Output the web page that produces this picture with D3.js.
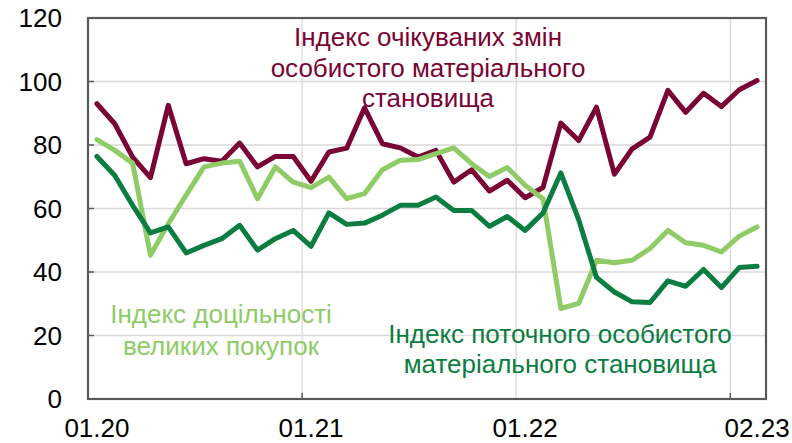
<!DOCTYPE html>
<html>
<head>
<meta charset="utf-8">
<script src="https://cdn.jsdelivr.net/npm/d3@7/dist/d3.min.js"></script>
<style>
  html, body { margin: 0; padding: 0; background: #ffffff; }
  svg { display: block; }
  text { font-family: "Liberation Sans", Arial, sans-serif; }
</style>
</head>
<body>
<svg id="chart" width="792" height="443"></svg>
<script>
// Months Jan 2020 .. Feb 2023
const months = [
  "01.20","02.20","03.20","04.20","05.20","06.20","07.20","08.20","09.20","10.20","11.20","12.20",
  "01.21","02.21","03.21","04.21","05.21","06.21","07.21","08.21","09.21","10.21","11.21","12.21",
  "01.22","02.22","03.22","04.22","05.22","06.22","07.22","08.22","09.22","10.22","11.22","12.22",
  "01.23","02.23"
];
const tickLabels = ["01.20","01.21","01.22","02.23"];
const yTicks = [0, 20, 40, 60, 80, 100, 120];

// Index of expected changes in personal financial situation
const expectedChange = [
  93.0, 86.7, 76.2, 69.7, 92.5, 74.1, 75.7, 74.9, 80.6, 73.1, 76.4, 76.4,
  68.6, 77.8, 79.0, 91.7, 80.4, 79.1, 76.2, 78.3, 68.3, 72.2, 65.5, 68.9,
  63.4, 66.6, 86.9, 81.4, 91.9, 70.8, 78.8, 82.5, 97.2, 90.3, 96.3, 92.1,
  97.4, 100.3
];
// Index of propriety of large purchases
const largePurchases = [
  81.7, 78.3, 74.3, 45.3, 55.2, 64.2, 73.1, 74.3, 74.9, 63.1, 73.1, 68.3,
  66.6, 69.9, 63.1, 64.7, 72.2, 75.2, 75.4, 77.3, 79.1, 74.1, 70.1, 72.9,
  67.3, 63.1, 28.5, 30.1, 43.7, 42.9, 43.7, 47.4, 53.1, 49.2, 48.4, 46.3,
  51.3, 54.2
];
// Index of current personal financial situation
const currentSituation = [
  76.4, 70.4, 61.0, 52.3, 54.2, 46.0, 48.4, 50.5, 54.7, 46.9, 50.5, 53.1,
  48.1, 58.6, 55.0, 55.4, 57.9, 61.0, 61.0, 63.6, 59.4, 59.4, 54.4, 57.5,
  53.1, 58.6, 71.2, 56.5, 38.3, 33.7, 30.6, 30.4, 37.2, 35.5, 40.8, 35.1,
  41.4, 41.8
];

const series = [
  { name: "expected", values: expectedChange, color: "#7a0534",
    label: ["Індекс очікуваних змін", "особистого матеріального", "становища"], lx: 428, ly: 46, lh: 30.5 },
  { name: "purchases", values: largePurchases, color: "#8fcb66",
    label: ["Індекс доцільності", "великих покупок"], lx: 221, ly: 323, lh: 31.5 },
  { name: "current", values: currentSituation, color: "#0b7d41",
    label: ["Індекс поточного особистого", "матеріального становища"], lx: 560, ly: 343, lh: 30 }
];

const plotL = 88, plotR = 766, plotT = 18, plotB = 399;
const svg = d3.select("#chart");

const x = d3.scaleBand().domain(d3.range(months.length)).range([plotL, plotR]).paddingInner(0).paddingOuter(0);
const y = d3.scaleLinear().domain([0, 120]).range([plotB, plotT]);
const cx = i => x(i) + x.bandwidth() / 2;

// horizontal gridlines
svg.append("g").selectAll("line").data(yTicks.filter(v => v > 0 && v < 120)).join("line")
  .attr("x1", plotL).attr("x2", plotR)
  .attr("y1", d => y(d)).attr("y2", d => y(d))
  .attr("stroke", "#d9d9d9").attr("stroke-width", 1.3);

// vertical gridlines at year boundaries
const vIdx = [12, 24, 36];
svg.append("g").selectAll("line").data(vIdx).join("line")
  .attr("x1", d => x(d)).attr("x2", d => x(d))
  .attr("y1", plotT).attr("y2", plotB)
  .attr("stroke", "#d9d9d9").attr("stroke-width", 1.3);

// y axis ticks (inside)
svg.append("g").selectAll("line").data(yTicks.filter(v => v > 0 && v < 120)).join("line")
  .attr("x1", plotL).attr("x2", plotL + 6)
  .attr("y1", d => y(d)).attr("y2", d => y(d))
  .attr("stroke", "#595959").attr("stroke-width", 1.5);
// x axis ticks (inside)
svg.append("g").selectAll("line").data([12, 36]).join("line")
  .attr("x1", d => x(d)).attr("x2", d => x(d))
  .attr("y1", plotB).attr("y2", plotB - 6)
  .attr("stroke", "#595959").attr("stroke-width", 1.5);

// lines
const line = d3.line().x((d, i) => cx(i)).y(d => y(d)).curve(d3.curveLinear);
svg.append("g").selectAll("path").data(series).join("path")
  .attr("d", d => line(d.values))
  .attr("fill", "none")
  .attr("stroke", d => d.color)
  .attr("stroke-width", 5)
  .attr("stroke-linejoin", "round")
  .attr("stroke-linecap", "round");

// frame
svg.append("rect")
  .attr("x", plotL).attr("y", plotT).attr("width", plotR - plotL).attr("height", plotB - plotT)
  .attr("fill", "none").attr("stroke", "#595959").attr("stroke-width", 2.2);

// y labels
svg.append("g").selectAll("text").data(yTicks).join("text")
  .attr("x", 62).attr("y", d => y(d)).attr("dy", "0.36em")
  .attr("text-anchor", "end").attr("font-size", 26).attr("fill", "#000")
  .text(d => d);

// x labels
svg.append("g").selectAll("text").data(tickLabels).join("text")
  .attr("x", d => cx(months.indexOf(d))).attr("y", 437)
  .attr("text-anchor", "middle").attr("font-size", 26).attr("fill", "#000")
  .text(d => d);

// series annotations
series.forEach(s => {
  const t = svg.append("text")
    .attr("text-anchor", "middle").attr("font-size", 26).attr("fill", s.color);
  s.label.forEach((ln, k) => {
    t.append("tspan").attr("x", s.lx).attr("y", s.ly + k * s.lh).text(ln);
  });
});
</script>
</body>
</html>
